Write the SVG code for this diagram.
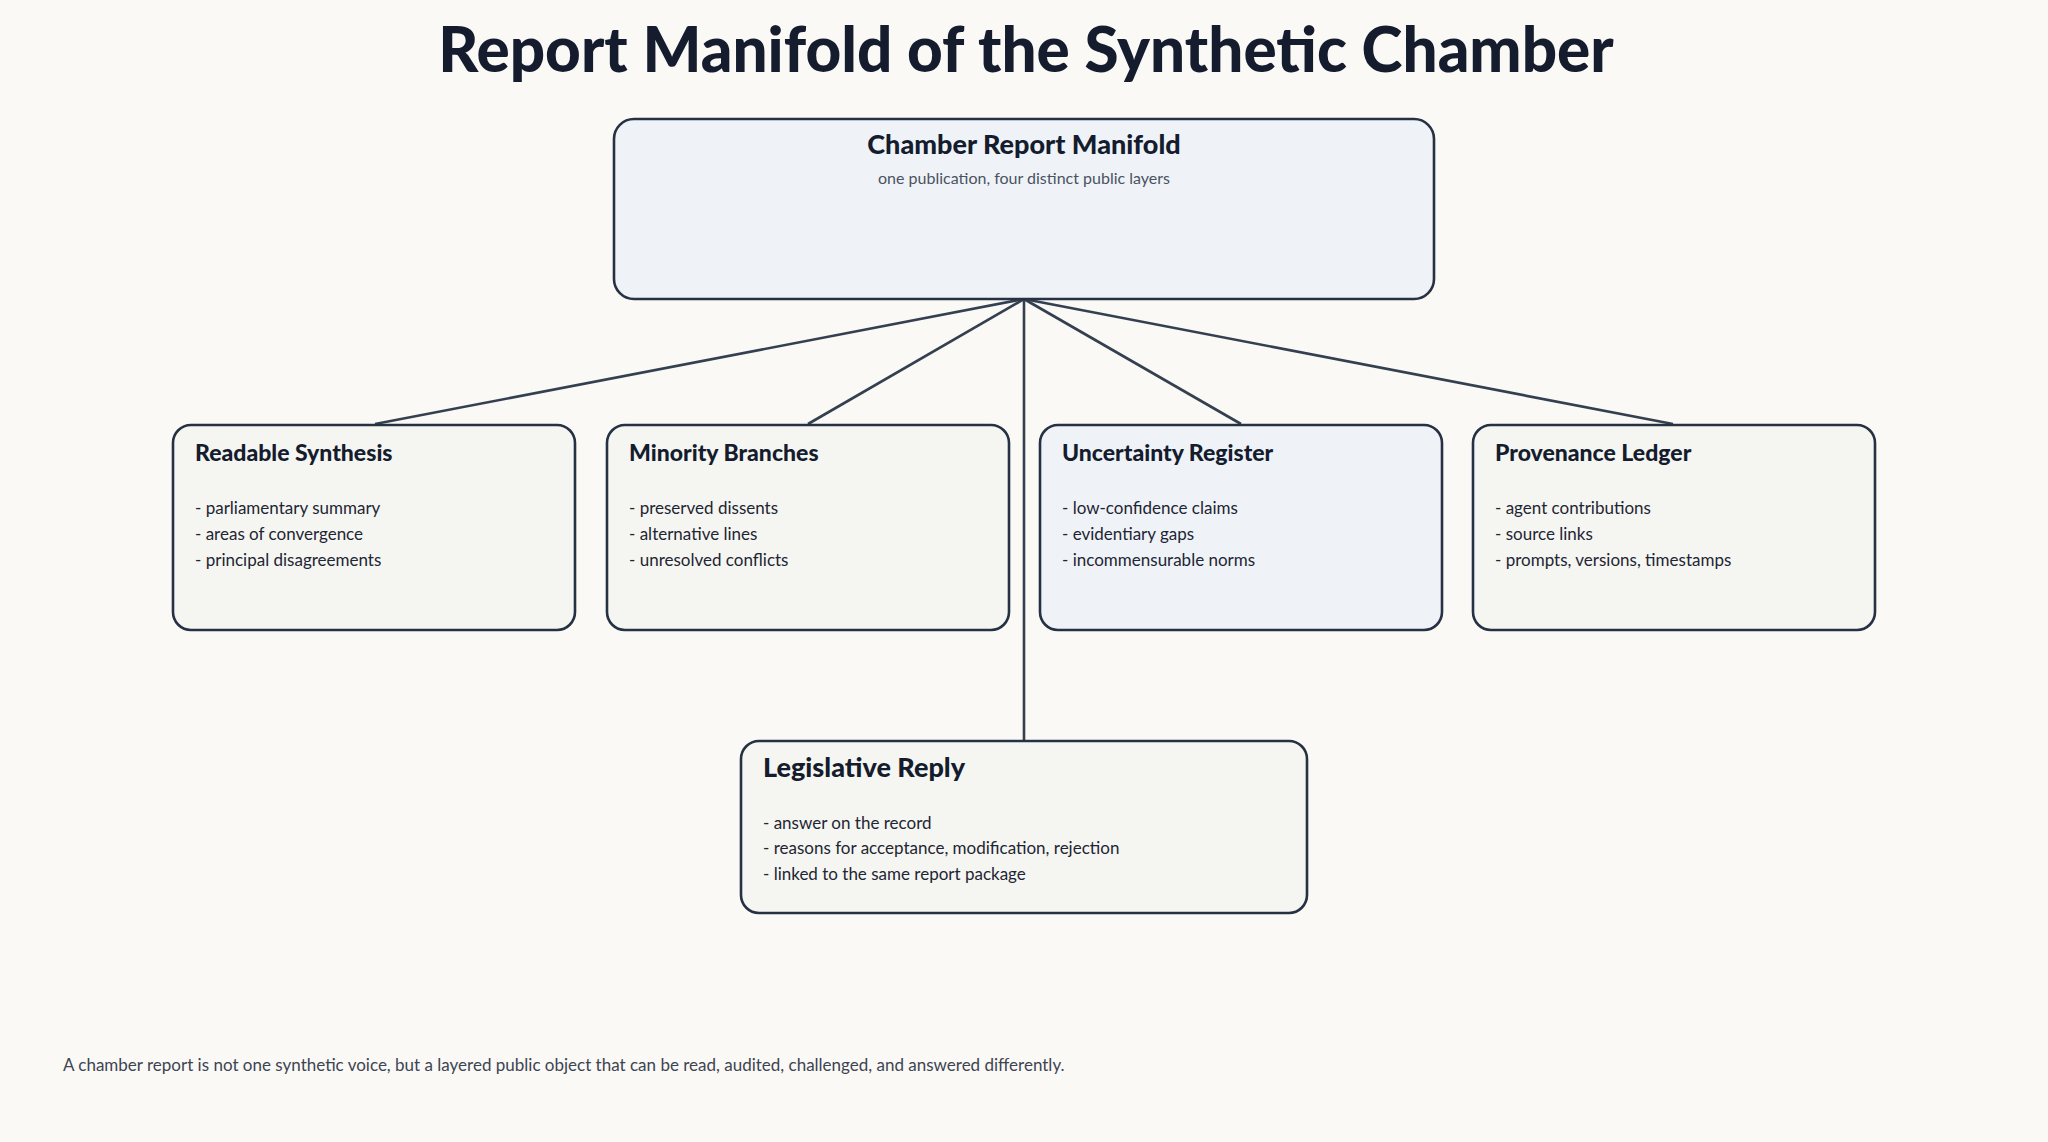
<svg xmlns="http://www.w3.org/2000/svg" width="2048" height="1142" viewBox="0 0 2048 1142">
<style>
.bg{fill:#faf9f6}
.box{stroke:#263143;stroke-width:2.6}
.pale{fill:#f5f6f2}
.blue{fill:#eff3f8}
.h{font-family:Lato,"Noto Sans",sans-serif;font-weight:900;fill:#141c2e}
.t{font-family:Lato,"Noto Sans",sans-serif;fill:#1e2533;font-size:17px}
.c{stroke:#34404f;stroke-width:2.6;fill:none}
</style>
<rect class="bg" width="2048" height="1142"/>
<text class="h" x="1026" y="72" font-size="62" text-anchor="middle">Report Manifold of the Synthetic Chamber</text>
<g id="connectors">
<line class="c" x1="1024" y1="299" x2="375" y2="424"/>
<line class="c" x1="1024" y1="299" x2="808" y2="424"/>
<line class="c" x1="1024" y1="299" x2="1024" y2="740"/>
<line class="c" x1="1024" y1="299" x2="1241" y2="424"/>
<line class="c" x1="1024" y1="299" x2="1673" y2="424"/>
</g>
<g id="manifold">
<rect class="box blue" x="614" y="119" width="820" height="180" rx="20"/>
<text class="h" x="1024" y="154" font-size="27" text-anchor="middle">Chamber Report Manifold</text>
<text class="t" x="1024" y="184" font-size="16" text-anchor="middle" fill="#4a5261" style="fill:#4a5261;font-size:16px">one publication, four distinct public layers</text>
</g>
<g id="readable">
<rect class="box pale" x="173" y="425" width="402" height="205" rx="18"/>
<text class="h" x="195" y="461" font-size="23">Readable Synthesis</text>
<text class="t" x="195" y="514">- parliamentary summary</text>
<text class="t" x="195" y="540">- areas of convergence</text>
<text class="t" x="195" y="566">- principal disagreements</text>
</g>
<g id="minority">
<rect class="box pale" x="607" y="425" width="402" height="205" rx="18"/>
<text class="h" x="629" y="461" font-size="23">Minority Branches</text>
<text class="t" x="629" y="514">- preserved dissents</text>
<text class="t" x="629" y="540">- alternative lines</text>
<text class="t" x="629" y="566">- unresolved conflicts</text>
</g>
<g id="uncertainty">
<rect class="box blue" x="1040" y="425" width="402" height="205" rx="18"/>
<text class="h" x="1062" y="461" font-size="23">Uncertainty Register</text>
<text class="t" x="1062" y="514">- low-confidence claims</text>
<text class="t" x="1062" y="540">- evidentiary gaps</text>
<text class="t" x="1062" y="566">- incommensurable norms</text>
</g>
<g id="provenance">
<rect class="box pale" x="1473" y="425" width="402" height="205" rx="18"/>
<text class="h" x="1495" y="461" font-size="23">Provenance Ledger</text>
<text class="t" x="1495" y="514">- agent contributions</text>
<text class="t" x="1495" y="540">- source links</text>
<text class="t" x="1495" y="566">- prompts, versions, timestamps</text>
</g>
<g id="legislative">
<rect class="box pale" x="741" y="741" width="566" height="172" rx="18"/>
<text class="h" x="763" y="777" font-size="27">Legislative Reply</text>
<text class="t" x="763" y="829">- answer on the record</text>
<text class="t" x="763" y="854">- reasons for acceptance, modification, rejection</text>
<text class="t" x="763" y="880">- linked to the same report package</text>
</g>
<text class="t" x="63" y="1071" style="fill:#3d4452">A chamber report is not one synthetic voice, but a layered public object that can be read, audited, challenged, and answered differently.</text>
</svg>
